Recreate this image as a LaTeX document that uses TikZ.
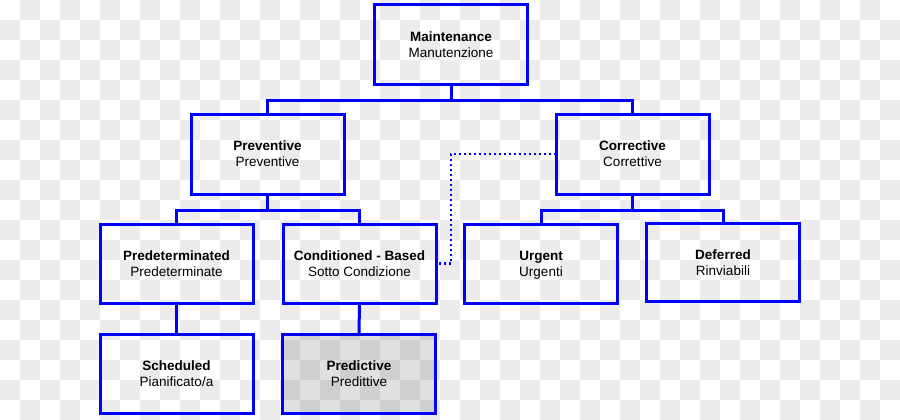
\documentclass[tikz,border=0pt]{standalone}
\usepackage{fontspec}
\setmainfont{Liberation Sans}
\definecolor{chk}{RGB}{236,236,236}
\definecolor{bblue}{RGB}{0,0,255}
\newcommand{\twolab}[2]{\textbf{#1}\rule{0pt}{12pt}\\#2\rule[-3pt]{0pt}{3pt}}
\begin{document}
\begin{tikzpicture}[x=1pt,y=-1pt,
  box/.style={draw=bblue,line width=3pt,minimum width=153pt,minimum height=80pt,
    inner sep=0pt,outer sep=0pt,align=center,font=\fontsize{13.5}{16}\selectfont},
  conn/.style={draw=bblue,line width=3pt},
  dots/.style={draw=bblue,line width=2.5pt,dash pattern=on 2pt off 3pt}]
\useasboundingbox (0,0) rectangle (900,420);
\fill[white] (0,0) rectangle (900,420);
\foreach \i in {0,...,44}{
  \foreach \j in {0,...,20}{
    \pgfmathtruncatemacro{\odd}{mod(\i+\j,2)}
    \ifnum\odd=1 \fill[chk] (20*\i,20*\j) rectangle ++(20,20);\fi
  }
}
\node[box] (maint) at (451,45) {\twolab{Maintenance}{Manutenzione}};
\node[box] (prev) at (267.5,154) {\twolab{Preventive}{Preventive}};
\node[box] (corr) at (632.5,154) {\twolab{Corrective}{Correttive}};
\node[box,minimum height=79pt] (pred) at (176.5,263.5) {\twolab{Predeterminated}{Predeterminate}};
\node[box,minimum height=79pt] (cond) at (359.5,263.5) {\twolab{Conditioned - Based}{Sotto Condizione}};
\node[box,minimum height=79pt] (urg) at (541,263.5) {\twolab{Urgent}{Urgenti}};
\node[box,minimum height=78pt] (def) at (723,262.5) {\twolab{Deferred}{Rinviabili}};
\node[box,minimum height=79pt] (sched) at (176.5,373.5) {\twolab{Scheduled}{Pianificato/a}};
\node[box,minimum height=79pt,fill=black,fill opacity=0.12,text opacity=1] (predc) at (359,373.5) {\twolab{Predictive}{Predittive}};
\coordinate (b1) at (0,100);
\coordinate (b2) at (0,210);
\coordinate (dk) at (451,0);
\draw[conn] (maint.south) -- (maint.south |- b1) -| (prev.north);
\draw[conn] (maint.south |- b1) -| (corr.north);
\draw[conn] (prev.south) -- (prev.south |- b2) -| (pred.north);
\draw[conn] (prev.south |- b2) -| (cond.north);
\draw[conn] (corr.south) -- (corr.south |- b2) -| (urg.north);
\draw[conn] (corr.south |- b2) -| (def.north);
\draw[conn] (pred.south) -- (sched.north);
\draw[conn] (cond.south) -- (predc.north);
\draw[dots] (corr.west) -| (dk |- cond.east) -- (cond.east);
\end{tikzpicture}
\end{document}
